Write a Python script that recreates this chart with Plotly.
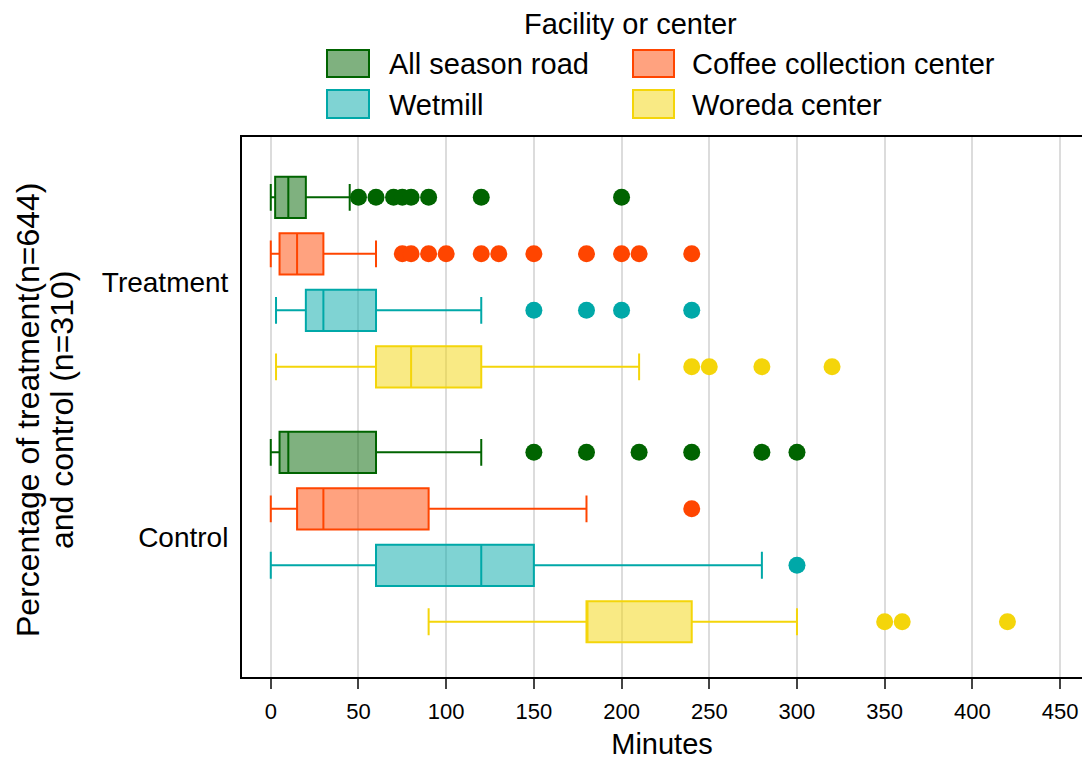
import plotly.graph_objects as go

# ---------------- data ----------------
categories = ["Treatment", "Control"]
series_names = ["All season road", "Coffee collection center", "Wetmill", "Woreda center"]

road_q1 = [2.5, 5]
road_median = [10, 10]
road_q3 = [20, 60]
road_low = [0, 0]
road_high = [45, 120]
road_out_treatment = [50, 60, 70, 75, 80, 90, 120, 200]
road_out_control = [150, 180, 210, 240, 280, 300]

coffee_q1 = [5, 15]
coffee_median = [15, 30]
coffee_q3 = [30, 90]
coffee_low = [0, 0]
coffee_high = [60, 180]
coffee_out_treatment = [75, 80, 90, 100, 120, 130, 150, 180, 200, 210, 240]
coffee_out_control = [240]

wetmill_q1 = [20, 60]
wetmill_median = [30, 120]
wetmill_q3 = [60, 150]
wetmill_low = [3, 0]
wetmill_high = [120, 280]
wetmill_out_treatment = [150, 180, 200, 240]
wetmill_out_control = [300]

woreda_q1 = [60, 180]
woreda_median = [80, 180]
woreda_q3 = [120, 240]
woreda_low = [3, 90]
woreda_high = [210, 300]
woreda_out_treatment = [240, 250, 280, 320]
woreda_out_control = [350, 360, 420]

x_ticks = [0, 50, 100, 150, 200, 250, 300, 350, 400, 450]
y_title_lines = ["Percentage of treatment(n=644)", "and control (n=310)"]

# ---------------- style ----------------
line_colors = ["#006400", "#FF4500", "#00A8A8", "#F4D50A"]
fill_colors = ["rgba(0,100,0,0.5)", "rgba(255,69,0,0.5)", "rgba(0,168,168,0.5)", "rgba(244,213,10,0.5)"]
FONT = "Arial, Liberation Sans, sans-serif"

stats = [
    (road_q1, road_median, road_q3, road_low, road_high, road_out_treatment, road_out_control),
    (coffee_q1, coffee_median, coffee_q3, coffee_low, coffee_high, coffee_out_treatment, coffee_out_control),
    (wetmill_q1, wetmill_median, wetmill_q3, wetmill_low, wetmill_high, wetmill_out_treatment, wetmill_out_control),
    (woreda_q1, woreda_median, woreda_q3, woreda_low, woreda_high, woreda_out_treatment, woreda_out_control),
]

W, H = 1082, 760
ML, MR, MT, MB = 242, 0, 137, 83
PW, PH = W - ML - MR, H - MT - MB

fig = go.Figure()
for i, (name, st) in enumerate(zip(series_names, stats)):
    q1, med, q3, lo, hi, out_t, out_c = st
    fig.add_trace(go.Box(
        name=name, y=categories, q1=q1, median=med, q3=q3,
        lowerfence=lo, upperfence=hi, orientation="h",
        fillcolor=fill_colors[i], line=dict(color=line_colors[i], width=2),
        whiskerwidth=0.65, offsetgroup=str(i), alignmentgroup="a",
        showlegend=False, hoverinfo="skip",
    ))
for i, (name, st) in enumerate(zip(series_names, stats)):
    out_t, out_c = st[5], st[6]
    xs = list(out_t) + list(out_c)
    ys = [categories[0]] * len(out_t) + [categories[1]] * len(out_c)
    fig.add_trace(go.Scatter(
        x=xs, y=ys, mode="markers", orientation="h", name=name,
        marker=dict(color=line_colors[i], size=17, line=dict(width=0)),
        offsetgroup=str(i), alignmentgroup="a", showlegend=False,
    ))


def px_x(p):
    return (p - ML) / PW


def px_y(p):
    return (H - MB - p) / PH


shapes = []
annotations = []
# manual legend
legend_cols = [(327, 369, 387), (633, 674, 690)]
legend_rows = [(50, 77), (90, 118)]
for i, name in enumerate(series_names):
    r, c = divmod(i, 2)
    x0, x1, xt = legend_cols[c]
    y0, y1 = legend_rows[r]
    shapes.append(dict(type="rect", xref="paper", yref="paper",
                       x0=px_x(x0), x1=px_x(x1), y0=px_y(y1), y1=px_y(y0),
                       fillcolor=fill_colors[i], line=dict(color=line_colors[i], width=2)))
    annotations.append(dict(xref="paper", yref="paper", x=px_x(xt), y=px_y((y0 + y1) / 2 + 1),
                            xanchor="left", yanchor="middle", text=name, showarrow=False,
                            font=dict(size=29, color="black", family=FONT)))
annotations.append(dict(xref="paper", yref="paper", x=px_x(630), y=px_y(24),
                        xanchor="center", yanchor="middle", text="Facility or center",
                        showarrow=False, font=dict(size=29, color="black", family=FONT)))
for xc, line in zip([28, 62], y_title_lines):
    annotations.append(dict(xref="paper", yref="paper", x=px_x(xc), y=px_y(410),
                            xanchor="center", yanchor="middle", textangle=-90,
                            text=line, showarrow=False,
                            font=dict(size=32, color="black", family=FONT)))

fig.update_layout(
    width=W, height=H, margin=dict(l=ML, r=MR, t=MT, b=MB, autoexpand=False),
    paper_bgcolor="white", plot_bgcolor="white",
    boxmode="group", boxgap=0.114, boxgroupgap=0.27,
    scattermode="group", scattergap=0.114,
    showlegend=False, shapes=shapes, annotations=annotations,
    font=dict(family=FONT, color="black"),
    xaxis=dict(
        range=[-16.4, 462.5], tickvals=x_ticks, ticktext=[str(v) for v in x_ticks],
        showgrid=True, gridcolor="#dcdcdc", gridwidth=2, zeroline=False,
        showline=True, linecolor="black", linewidth=2, mirror=True,
        ticks="outside", ticklen=10, tickwidth=2, tickcolor="#444",
        tickfont=dict(size=22, color="black", family=FONT), ticklabelstandoff=4,
        title=dict(text="Minutes", font=dict(size=29, color="black", family=FONT), standoff=10),
    ),
    yaxis=dict(
        type="category", categoryorder="array", categoryarray=categories,
        range=[1.549, -0.569], showgrid=False, zeroline=False,
        showline=True, linecolor="black", linewidth=2,
        ticks="", tickfont=dict(size=28, color="black", family=FONT), ticklabelstandoff=6,
    ),
)

fig.write_html("out.html")
